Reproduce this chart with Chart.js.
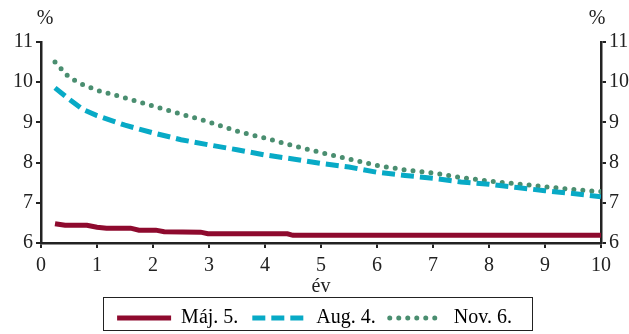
<!DOCTYPE html>
<html>
<head>
<meta charset="utf-8">
<script src="https://cdn.jsdelivr.net/npm/chart.js@4/dist/chart.umd.min.js"></script>
<style>
  html, body { margin: 0; padding: 0; background: #fff; }
  #wrap { width: 629px; height: 334px; }
</style>
</head>
<body>
<div id="wrap"><canvas id="yieldChart" width="629" height="334"></canvas></div>
<script>
// maturity in years
const years = [0.25, 0.5, 0.75, 1, 1.5, 2, 2.5, 3, 3.5, 4, 4.5, 5, 5.5, 6, 6.5, 7, 7.5, 8, 8.5, 9, 9.5, 10];
const aug4 = [9.86, 9.58, 9.32, 9.17, 8.93, 8.74, 8.57, 8.44, 8.32, 8.19, 8.09, 7.98, 7.89, 7.76, 7.68, 7.61, 7.52, 7.46, 7.38, 7.30, 7.23, 7.15];
const nov6 = [10.50, 10.12, 9.94, 9.80, 9.61, 9.41, 9.21, 9.01, 8.78, 8.61, 8.42, 8.25, 8.09, 7.93, 7.82, 7.74, 7.63, 7.54, 7.47, 7.40, 7.33, 7.28];

// the May curve has its own (step-like) points
const mayYears = [0.25, 0.43, 0.82, 1.0, 1.17, 1.6, 1.75, 2.05, 2.2, 2.85, 2.98, 4.4, 4.5, 10];
const maj5 = [6.48, 6.44, 6.44, 6.39, 6.37, 6.37, 6.32, 6.32, 6.28, 6.27, 6.23, 6.23, 6.19, 6.19];

const seriesNames = ['Máj. 5.', 'Aug. 4.', 'Nov. 6.'];
const xTicks = [0, 10, 1];
const yTicks = [6, 11, 1];

const font = '"Liberation Serif", "Times New Roman", serif';

function toPoints(xs, ys) {
    return xs.map((x, i) => ({ x: x, y: ys[i] }));
}

const extras = {
    id: 'extras',
    afterDraw(chart) {
        const ctx = chart.ctx;
        const lg = chart.legend;
        const boxes = lg.legendHitBoxes;
        ctx.save();
        if (boxes && boxes.length) {
            const left = Math.min(...boxes.map(b => b.left)) - 14;
            const right = Math.max(...boxes.map(b => b.left + b.width)) + 20;
            ctx.strokeStyle = '#222';
            ctx.lineWidth = 1;
            ctx.strokeRect(Math.round(left) + 0.5, 297.5, Math.round(right - left), 33);
        }
        ctx.fillStyle = '#222';
        ctx.font = '20px ' + font;
        ctx.textAlign = 'center';
        ctx.textBaseline = 'middle';
        ctx.fillText('%', 45, 19);
        ctx.fillText('%', 597, 19);
        ctx.restore();
    }
};

function axisStyle(extra) {
    return Object.assign({
        min: yTicks[0],
        max: yTicks[1],
        ticks: { stepSize: yTicks[2], color: '#222', font: { family: font, size: 20 }, padding: 3 },
        grid: { display: true, drawOnChartArea: false, drawTicks: true, tickLength: 5, color: '#222', lineWidth: 2 },
        border: { display: true, color: '#222', width: 2.5 }
    }, extra);
}

let ctx = document.getElementById('yieldChart').getContext('2d');

let yieldChart = new Chart(ctx, {
    type: 'line',
    data: {
        datasets: [{
            label: seriesNames[0],
            data: toPoints(mayYears, maj5),
            borderColor: '#8e0a2e',
            borderWidth: 5,
            borderDash: [],
            borderCapStyle: 'butt'
        }, {
            label: seriesNames[1],
            data: toPoints(years, aug4),
            borderColor: '#08aac6',
            borderWidth: 5,
            borderDash: [13, 6],
            borderCapStyle: 'butt'
        }, {
            label: seriesNames[2],
            data: toPoints(years, nov6),
            borderColor: '#4a8e70',
            borderWidth: 5,
            borderDash: [0, 9],
            borderCapStyle: 'round'
        }]
    },
    options: {
        responsive: false,
        animation: false,
        devicePixelRatio: 1,
        layout: { padding: { top: 42, left: 0, right: 0, bottom: -4 } },
        elements: {
            point: { radius: 0 },
            line: { tension: 0, fill: false }
        },
        scales: {
            x: {
                type: 'linear',
                min: xTicks[0],
                max: xTicks[1],
                ticks: { stepSize: xTicks[2], color: '#222', font: { family: font, size: 20 }, padding: 6 },
                grid: { display: true, drawOnChartArea: false, drawTicks: true, tickLength: 5, color: '#222', lineWidth: 2 },
                border: { display: true, color: '#222', width: 2.5 },
                title: { display: true, text: 'év', color: '#222', font: { family: font, size: 20 }, padding: { top: 0, bottom: -5 } },
                afterFit: function (scale) { scale.height = 51; }
            },
            y: axisStyle({
                position: 'left',
                afterFit: function (scale) { scale.width = 41; }
            }),
            y2: axisStyle({
                position: 'right',
                afterFit: function (scale) { scale.width = 28; }
            })
        },
        plugins: {
            tooltip: { enabled: false },
            legend: {
                position: 'bottom',
                labels: {
                    usePointStyle: true,
                    pointStyle: 'line',
                    pointStyleWidth: 54,
                    boxHeight: 20,
                    padding: 14,
                    color: '#222',
                    font: { family: font, size: 20 },
                    generateLabels: function (chart) {
                        return chart.data.datasets.map((ds, i) => ({
                            text: ds.label,
                            fillStyle: ds.borderColor,
                            strokeStyle: ds.borderColor,
                            lineWidth: ds.borderWidth,
                            lineDash: ds.borderDash,
                            lineCap: ds.borderCapStyle,
                            pointStyle: 'line',
                            hidden: false,
                            datasetIndex: i
                        }));
                    }
                }
            }
        }
    },
    plugins: [extras]
});
</script>
</body>
</html>
